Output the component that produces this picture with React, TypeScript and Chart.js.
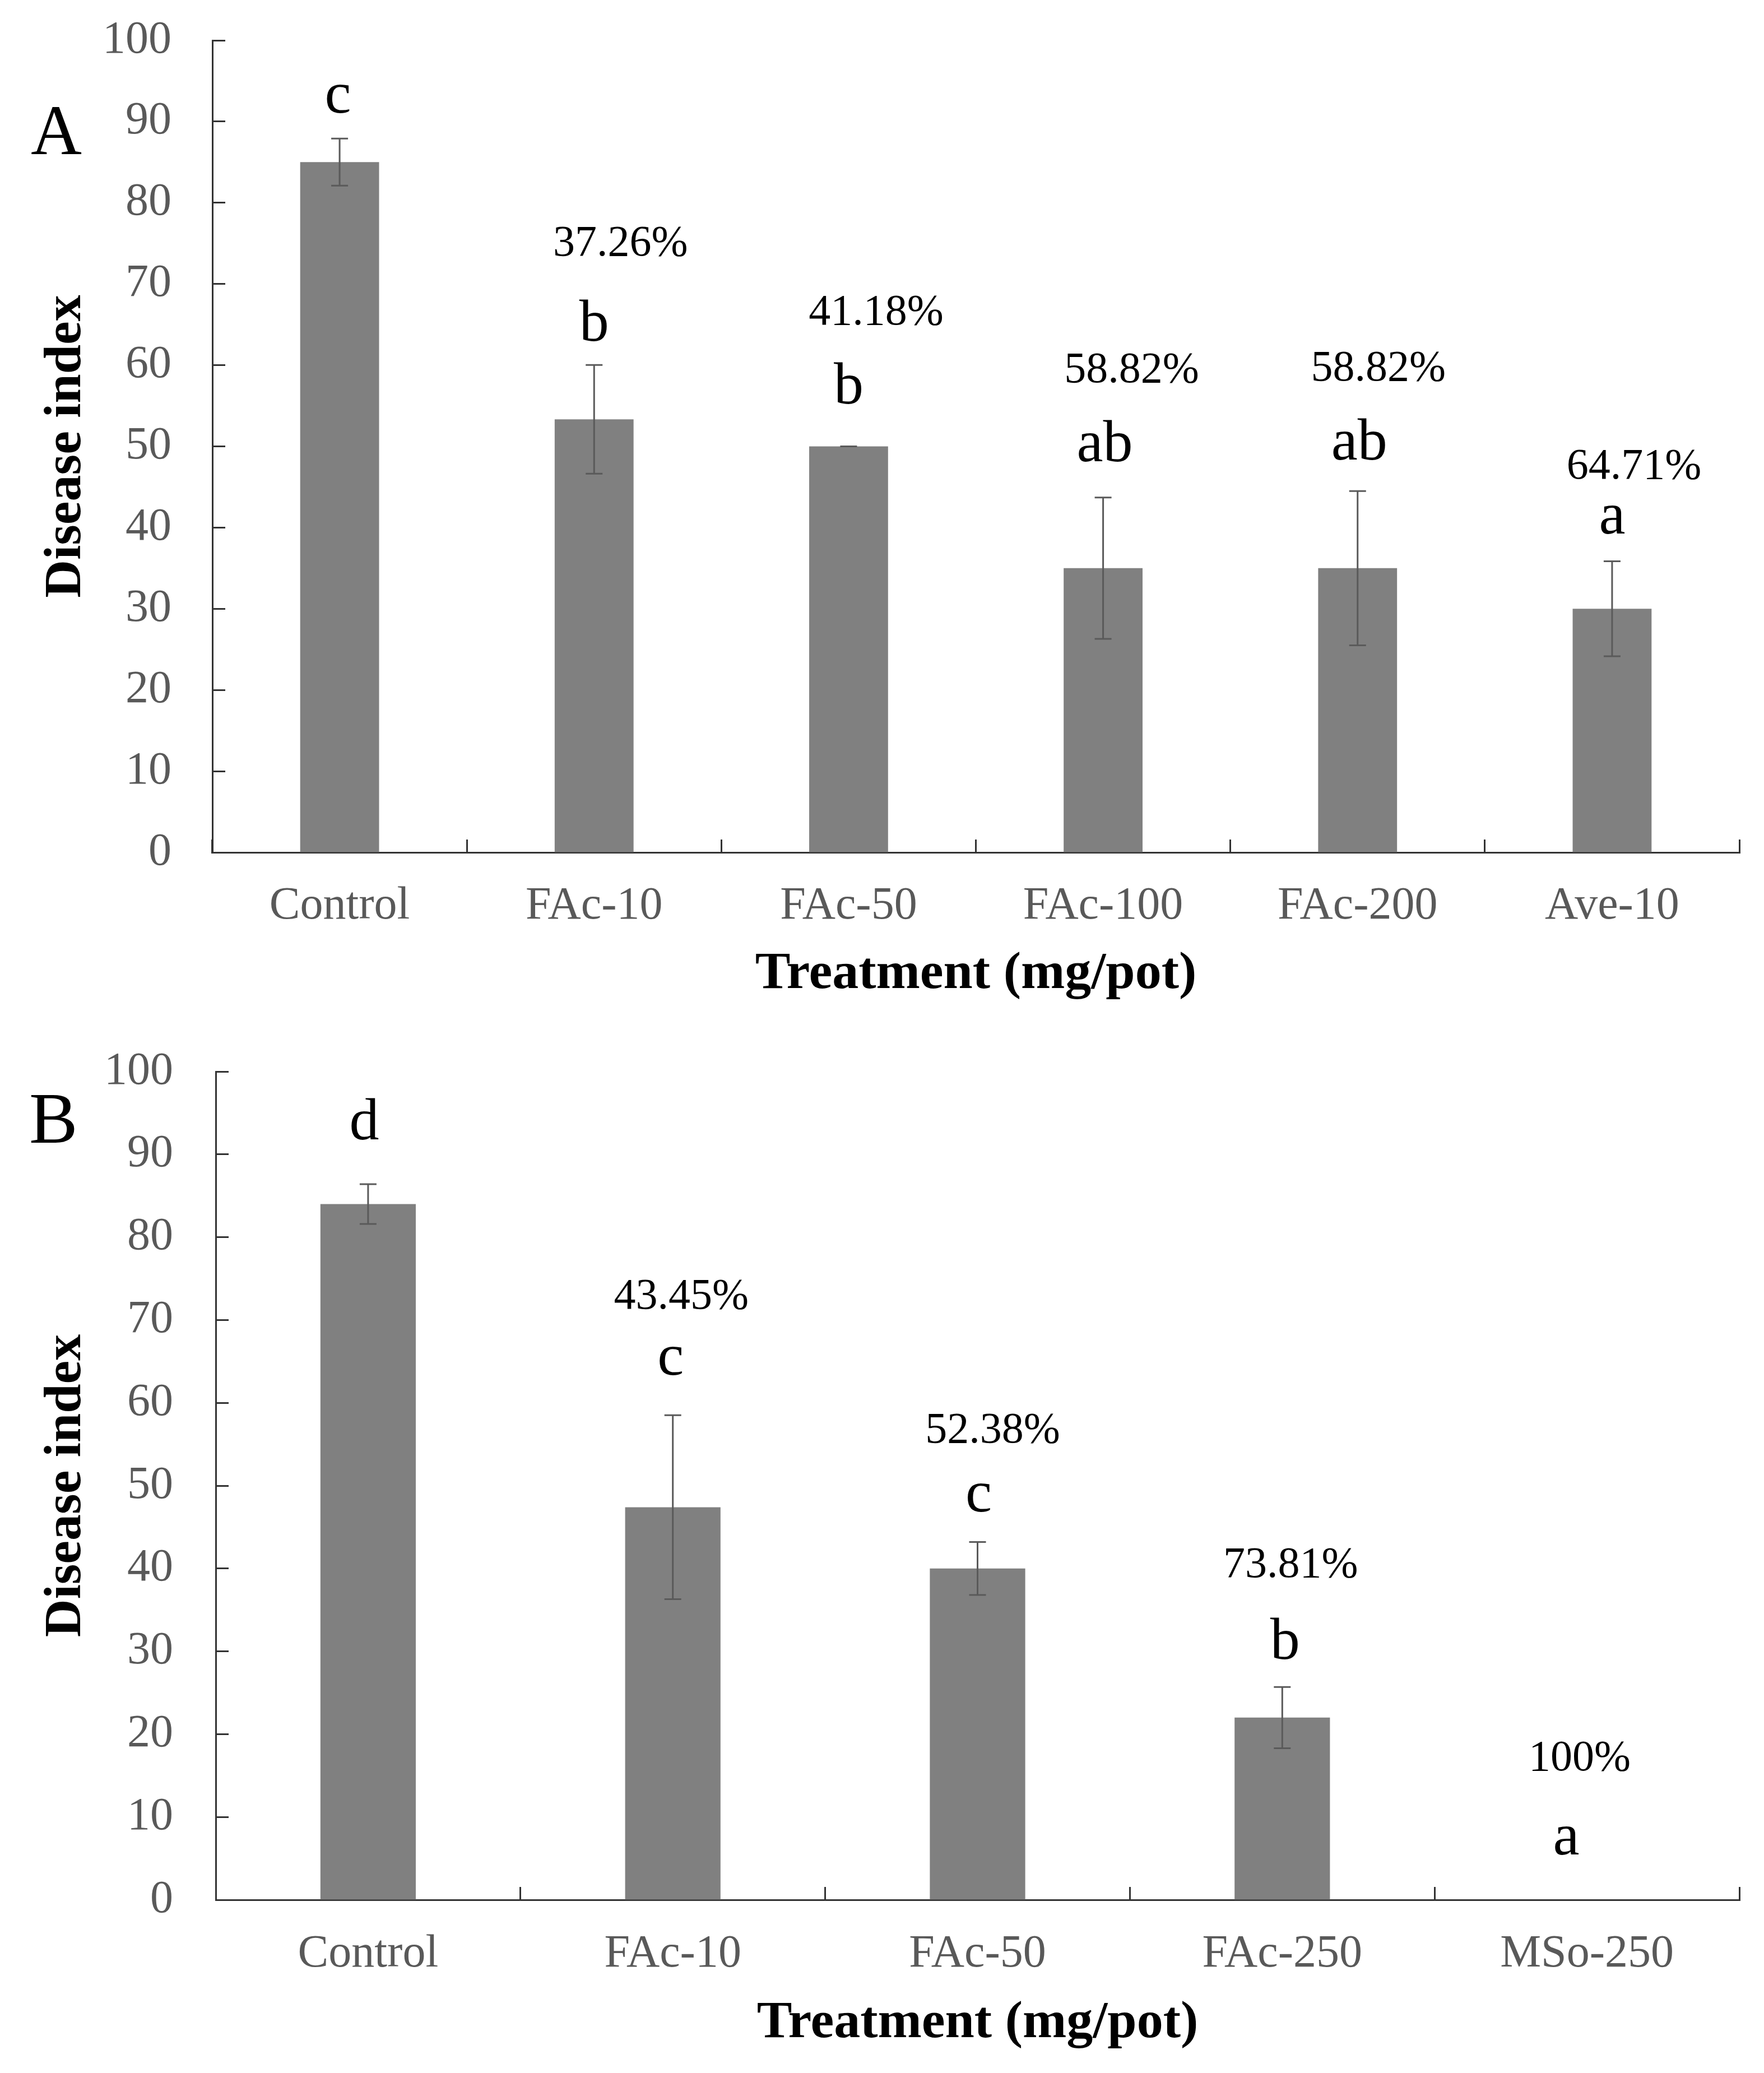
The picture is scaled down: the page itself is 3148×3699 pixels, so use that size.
import React, { useEffect, useRef } from "react";
import { Chart, registerables } from "chart.js";

Chart.register(...registerables);

// ---------------- Data ----------------
const categoriesA = ["Control", "FAc-10", "FAc-50", "FAc-100", "FAc-200", "Ave-10"];
const meansA = [85, 53.33, 50, 35, 35, 30];
const errorsA = [2.9, 6.7, 0, 8.7, 9.5, 5.85];
const lettersA = ["c", "b", "b", "ab", "ab", "a"];
const letterBaseA = [91.1, 63.0, 55.3, 48.2, 48.4, 39.3];
const percentA = ["", "37.26%", "41.18%", "58.82%", "58.82%", "64.71%"];
const percentBaseA = [0, 73.5, 65.0, 57.9, 58.1, 46.0];

const categoriesB = ["Control", "FAc-10", "FAc-50", "FAc-250", "MSo-250"];
const meansB = [84, 47.4, 40, 22, 0];
const errorsB = [2.4, 11.1, 3.2, 3.7, 0];
const lettersB = ["d", "c", "c", "b", "a"];
const letterBaseB = [91.8, 63.4, 46.9, 29.1, 5.5];
const percentB = ["", "43.45%", "52.38%", "73.81%", "100%"];
const percentBaseB = [0, 71.4, 55.2, 39.0, 15.6];

const yMin = 0;
const yMax = 100;
const yStep = 10;

const yTitle = "Disease index";
const xTitle = "Treatment (mg/pot)";

// ---------------- Styling ----------------
const SERIF = '"Liberation Serif", "Times New Roman", serif';
const BAR = "#808080";
const AXIS = "#333333";
const TICK_TEXT = "#595959";
const ERR = "#5a5a5a";
const W = 3148;

type Panel = {
  tag: string;
  top: number;
  height: number;
  padTop: number;
  yWidth: number;
  xHeight: number;
  yTickPad: number;
  xTickPad: number;
  xTitlePadBottom: number;
  barPct: number;
  cats: string[];
  means: number[];
  errs: number[];
  letters: string[];
  letterBase: number[];
  letterDx: number[];
  pcts: string[];
  pctBase: number[];
  pctDx: number[];
  tagX: number;
  tagBaseline: number;
  tagSize: number;
};

const panels: Panel[] = [
  {
    tag: "A",
    top: 0,
    height: 1830,
    padTop: 72,
    yWidth: 379,
    xHeight: 1830 - 1521,
    yTickPad: 96,
    xTickPad: 70,
    xTitlePadBottom: 35,
    barPct: 0.31,
    cats: categoriesA,
    means: meansA,
    errs: errorsA,
    letters: lettersA,
    letterBase: letterBaseA,
    letterDx: [-3, 0, 0, 3, 3, 0],
    pcts: percentA,
    pctBase: percentBaseA,
    pctDx: [0, 47, 49, 51, 37, 39],
    tagX: 55,
    tagBaseline: 275,
    tagSize: 126,
  },
  {
    tag: "B",
    top: 1830,
    height: 3699 - 1830,
    padTop: 1912 - 1830,
    yWidth: 385,
    xHeight: 3699 - 3390,
    yTickPad: 99,
    xTickPad: 71,
    xTitlePadBottom: 32,
    barPct: 0.313,
    cats: categoriesB,
    means: meansB,
    errs: errorsB,
    letters: lettersB,
    letterBase: letterBaseB,
    letterDx: [-7, -4, 2, 5, -37],
    pcts: percentB,
    pctBase: percentBaseB,
    pctDx: [0, 15, 27, 15, -13],
    tagX: 52,
    tagBaseline: 2039 - 1830,
    tagSize: 130,
  },
];

function annotationPlugin(p: Panel) {
  return {
    id: "annot" + p.tag,
    afterDatasetsDraw(chart: any) {
      const ctx = chart.ctx as CanvasRenderingContext2D;
      const ys = chart.scales.y;
      const meta = chart.getDatasetMeta(0);
      ctx.save();
      // error bars
      ctx.strokeStyle = ERR;
      ctx.lineWidth = 3;
      const cap = 15;
      p.means.forEach((m, i) => {
        if (m <= 0) return;
        const bx = meta.data[i].x;
        const yt = ys.getPixelForValue(m + p.errs[i]);
        const yb = ys.getPixelForValue(m - p.errs[i]);
        ctx.beginPath();
        ctx.moveTo(bx, yt);
        ctx.lineTo(bx, yb);
        ctx.moveTo(bx - cap, yt);
        ctx.lineTo(bx + cap, yt);
        ctx.moveTo(bx - cap, yb);
        ctx.lineTo(bx + cap, yb);
        ctx.stroke();
      });
      // significance letters
      ctx.fillStyle = "#000";
      ctx.textAlign = "center";
      ctx.textBaseline = "alphabetic";
      ctx.font = `106px ${SERIF}`;
      p.letters.forEach((t, i) => {
        if (!t) return;
        ctx.fillText(t, meta.data[i].x + p.letterDx[i], ys.getPixelForValue(p.letterBase[i]));
      });
      // control-effect percentages
      ctx.font = `78px ${SERIF}`;
      p.pcts.forEach((t, i) => {
        if (!t) return;
        ctx.fillText(t, meta.data[i].x + p.pctDx[i], ys.getPixelForValue(p.pctBase[i]));
      });
      ctx.restore();
    },
    afterDraw(chart: any) {
      const ctx = chart.ctx as CanvasRenderingContext2D;
      ctx.save();
      ctx.fillStyle = "#000";
      ctx.textAlign = "left";
      ctx.textBaseline = "alphabetic";
      ctx.font = `${p.tagSize}px ${SERIF}`;
      ctx.fillText(p.tag, p.tagX, p.tagBaseline);
      ctx.restore();
    },
  };
}

function makeChart(canvas: HTMLCanvasElement, p: Panel) {
  return new Chart(canvas, {
    type: "bar",
    data: {
      labels: p.cats,
      datasets: [
        {
          data: p.means,
          backgroundColor: BAR,
          borderWidth: 0,
          barPercentage: p.barPct,
          categoryPercentage: 1,
        },
      ],
    },
    options: {
      responsive: false,
      animation: false,
      devicePixelRatio: 1,
      layout: { padding: { top: p.padTop, right: W - 3104, bottom: 0, left: 0 } },
      plugins: {
        legend: { display: false },
        tooltip: { enabled: false },
        title: { display: false },
      },
      scales: {
        x: {
          type: "category",
          offset: true,
          grid: {
            display: true,
            offset: true,
            drawOnChartArea: false,
            drawTicks: true,
            tickLength: -23,
            tickColor: AXIS,
            tickWidth: 3,
          },
          border: { display: true, color: AXIS, width: 3 },
          ticks: {
            color: TICK_TEXT,
            font: { family: SERIF, size: 82 },
            padding: p.xTickPad,
            maxRotation: 0,
            minRotation: 0,
            autoSkip: false,
          },
          title: {
            display: true,
            text: xTitle,
            color: "#000",
            font: { family: SERIF, size: 94, weight: "bold" },
            padding: { top: 0, bottom: p.xTitlePadBottom },
          },
          afterFit: (s: any) => {
            s.height = p.xHeight;
            s.paddingLeft = 0;
            s.paddingRight = 0;
          },
        },
        y: {
          min: yMin,
          max: yMax,
          ticks: {
            stepSize: yStep,
            color: TICK_TEXT,
            font: { family: SERIF, size: 82 },
            padding: p.yTickPad,
          },
          grid: {
            display: true,
            drawOnChartArea: false,
            drawTicks: true,
            tickLength: -23,
            tickColor: AXIS,
            tickWidth: 3,
          },
          border: { display: true, color: AXIS, width: 3 },
          title: {
            display: true,
            text: yTitle,
            color: "#000",
            font: { family: SERIF, size: 94, weight: "bold" },
            padding: { top: 62, bottom: 0 },
          },
          afterFit: (s: any) => {
            s.width = p.yWidth;
            s.paddingTop = 0;
            s.paddingBottom = 0;
          },
        },
      },
    } as any,
    plugins: [annotationPlugin(p)],
  });
}

function PanelCanvas({ p }: { p: Panel }) {
  const ref = useRef<HTMLCanvasElement | null>(null);
  useEffect(() => {
    let chart: Chart | null = null;
    let cancelled = false;
    const start = () => {
      if (cancelled || !ref.current) return;
      chart = makeChart(ref.current, p);
    };
    if ((document as any).fonts && (document as any).fonts.load) {
      Promise.all([
        (document as any).fonts.load(`82px "Liberation Serif"`),
        (document as any).fonts.load(`bold 94px "Liberation Serif"`),
      ])
        .catch(() => undefined)
        .then(start);
    } else {
      start();
    }
    return () => {
      cancelled = true;
      if (chart) chart.destroy();
    };
  }, [p]);
  return (
    <canvas
      ref={ref}
      width={W}
      height={p.height}
      style={{ position: "absolute", left: 0, top: p.top, width: W, height: p.height, display: "block" }}
    />
  );
}

export default function App() {
  return (
    <div
      style={{
        position: "absolute",
        left: 0,
        top: 0,
        width: W,
        height: 3699,
        background: "#ffffff",
        overflow: "hidden",
      }}
    >
      {panels.map((p) => (
        <PanelCanvas key={p.tag} p={p} />
      ))}
    </div>
  );
}
